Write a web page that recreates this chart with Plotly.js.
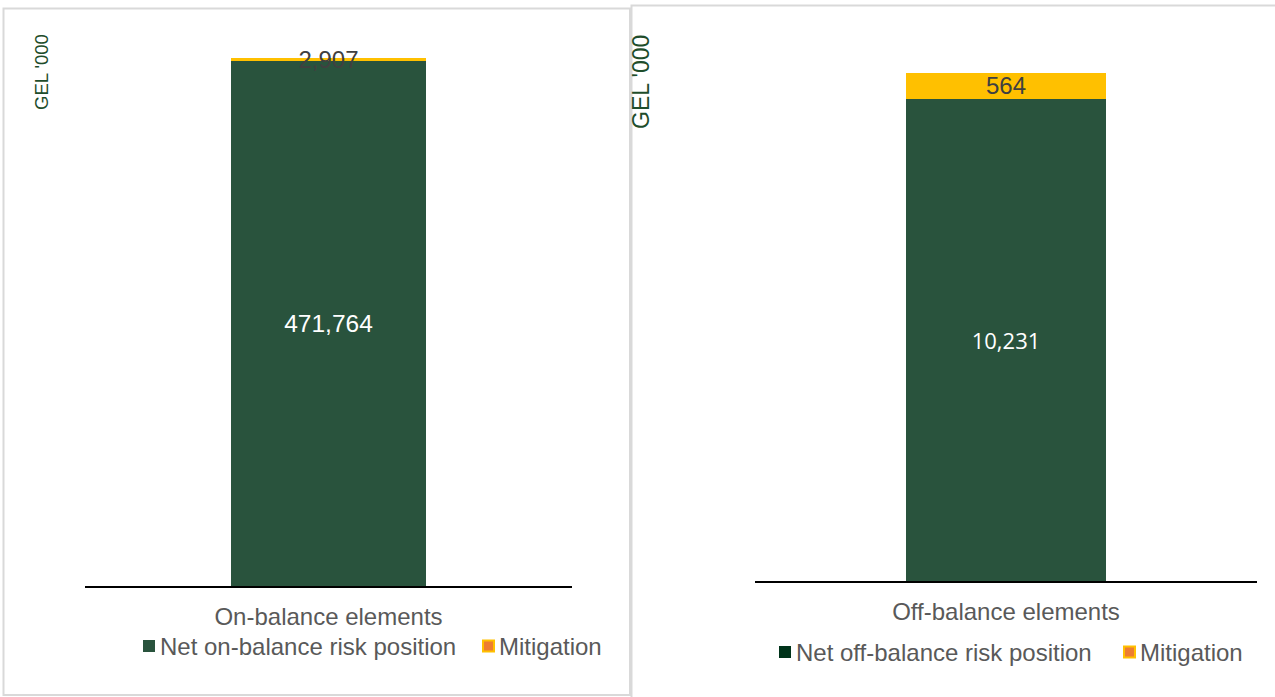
<!DOCTYPE html>
<html>
<head>
<meta charset="utf-8">
<script src="https://cdn.plot.ly/plotly-3.0.1.min.js"></script>
<style>html,body{margin:0;padding:0;background:#fff;}#chart{width:1275px;height:697px;}</style>
</head>
<body>
<div id="chart"></div>
<script>
// ---- data ----
var leftCategory = ['On-balance elements'];
var leftNet = [471764];
var leftMitigation = [2907];
var rightCategory = ['Off-balance elements'];
var rightNet = [10231];
var rightMitigation = [564];
var leftNetName = 'Net on-balance risk position';
var rightNetName = 'Net off-balance risk position';
var mitigationName = 'Mitigation';
var unitLabel = "GEL '000";

var W = 1275, H = 697;
function px(x){ return x / W; }
function py(y){ return 1 - y / H; }
function fmt(v){ return v.map(function(n){ return n.toLocaleString('en-US'); }); }

var ARIAL = 'Liberation Sans, Arial, sans-serif';
var GREEN = '#29533D';
var YELLOW = '#FFC000';
var GRAY = '#595959';

var traces = [
  { type:'bar', x:leftCategory, y:leftNet, xaxis:'x', yaxis:'y', width:0.4,
    marker:{color:GREEN}, text:fmt(leftNet), textposition:'inside', insidetextanchor:'middle',
    textangle:0, constraintext:'none', textfont:{family:ARIAL, size:24.5, color:'#FFFFFF'},
    hoverinfo:'skip', showlegend:false },
  { type:'bar', x:leftCategory, y:leftMitigation, xaxis:'x', yaxis:'y', width:0.4,
    marker:{color:YELLOW}, text:fmt(leftMitigation), textposition:'inside', insidetextanchor:'middle',
    textangle:0, constraintext:'none', textfont:{family:ARIAL, size:24, color:'#404040'},
    hoverinfo:'skip', showlegend:false },
  { type:'bar', x:rightCategory, y:rightNet, xaxis:'x2', yaxis:'y2', width:0.4,
    marker:{color:GREEN}, text:fmt(rightNet), textposition:'inside', insidetextanchor:'middle',
    textangle:0, constraintext:'none', textfont:{family:'Open Sans, Noto Sans, sans-serif', size:22, color:'#FFFFFF'},
    hoverinfo:'skip', showlegend:false },
  { type:'bar', x:rightCategory, y:rightMitigation, xaxis:'x2', yaxis:'y2', width:0.4,
    marker:{color:YELLOW}, text:fmt(rightMitigation), textposition:'inside', insidetextanchor:'middle',
    textangle:0, constraintext:'none', textfont:{family:ARIAL, size:24, color:'#404040'},
    hoverinfo:'skip', showlegend:false }
];

var axisFont = {family:ARIAL, size:24, color:GRAY};

var layout = {
  width: W, height: H,
  margin:{l:0, r:0, t:0, b:0, pad:0},
  paper_bgcolor:'#FFFFFF', plot_bgcolor:'rgba(0,0,0,0)',
  barmode:'stack',
  showlegend:false,
  xaxis:{ domain:[px(85), px(572)], anchor:'y', showline:true, linecolor:'#000000', linewidth:2,
          showgrid:false, zeroline:false, ticks:'', tickfont:axisFont, ticklabelstandoff:8, fixedrange:true },
  yaxis:{ domain:[py(586), py(20)], anchor:'x', range:[0, 508600], visible:false, fixedrange:true },
  xaxis2:{ domain:[px(755), px(1257)], anchor:'y2', showline:true, linecolor:'#000000', linewidth:2,
          showgrid:false, zeroline:false, ticks:'', tickfont:axisFont, ticklabelstandoff:8, fixedrange:true },
  yaxis2:{ domain:[py(581), py(20)], anchor:'x2', range:[0, 11911], visible:false, fixedrange:true },
  shapes:[
    {type:'rect', xref:'paper', yref:'paper', x0:px(3.5), x1:px(630), y0:py(695), y1:py(8.5),
     line:{color:'#D9D9D9', width:2}, fillcolor:'rgba(0,0,0,0)', layer:'below'},
    {type:'rect', xref:'paper', yref:'paper', x0:px(631.5), x1:px(1290), y0:py(710), y1:py(5.5),
     line:{color:'#D9D9D9', width:2}, fillcolor:'rgba(0,0,0,0)', layer:'below'},
    // legend keys
    {type:'rect', xref:'paper', yref:'paper', x0:px(143), x1:px(155), y0:py(652), y1:py(640),
     line:{width:0}, fillcolor:GREEN},
    {type:'rect', xref:'paper', yref:'paper', x0:px(483), x1:px(494), y0:py(651.5), y1:py(640.5),
     line:{color:YELLOW, width:2}, fillcolor:'#ED7D31'},
    {type:'rect', xref:'paper', yref:'paper', x0:px(779), x1:px(791), y0:py(658), y1:py(646),
     line:{width:0}, fillcolor:'#00331A'},
    {type:'rect', xref:'paper', yref:'paper', x0:px(1124), x1:px(1135), y0:py(657.5), y1:py(646.5),
     line:{color:YELLOW, width:2}, fillcolor:'#ED7D31'}
  ],
  annotations:[
    {xref:'paper', yref:'paper', x:px(42), y:py(72), text:unitLabel, showarrow:false, textangle:-90,
     xanchor:'center', yanchor:'middle', font:{family:ARIAL, size:18.5, color:'#1E4D2B'}},
    {xref:'paper', yref:'paper', x:px(641), y:py(82), text:unitLabel, showarrow:false, textangle:-90,
     xanchor:'center', yanchor:'middle', font:{family:ARIAL, size:23, color:'#1E4D2B'}},
    {xref:'paper', yref:'paper', x:px(158), y:py(646), text:leftNetName, showarrow:false,
     xanchor:'left', yanchor:'middle', font:{family:ARIAL, size:24, color:GRAY}},
    {xref:'paper', yref:'paper', x:px(497), y:py(646), text:mitigationName, showarrow:false,
     xanchor:'left', yanchor:'middle', font:{family:ARIAL, size:24, color:GRAY}},
    {xref:'paper', yref:'paper', x:px(794), y:py(652), text:rightNetName, showarrow:false,
     xanchor:'left', yanchor:'middle', font:{family:ARIAL, size:24, color:GRAY}},
    {xref:'paper', yref:'paper', x:px(1138), y:py(652), text:mitigationName, showarrow:false,
     xanchor:'left', yanchor:'middle', font:{family:ARIAL, size:24, color:GRAY}}
  ]
};

Plotly.newPlot('chart', traces, layout, {displayModeBar:false, staticPlot:true});
</script>
</body>
</html>
